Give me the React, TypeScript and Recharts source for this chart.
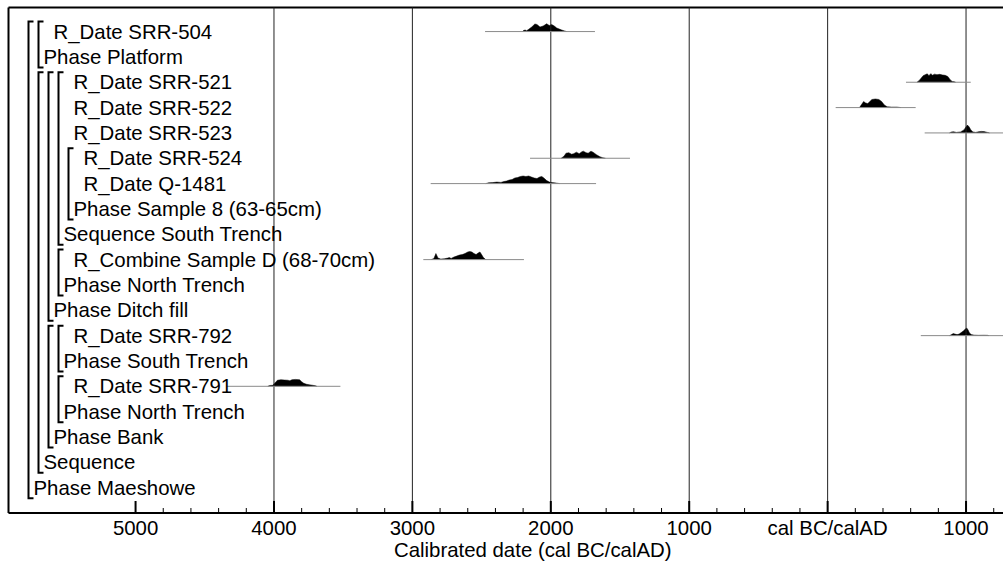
import { ComposedChart, Area, Line, XAxis, YAxis, ReferenceLine, Label } from "recharts"

const FONT = '"Liberation Sans", Arial, Helvetica, sans-serif'
const FONT_SIZE = 20.4

const WIDTH = 1003
const HEIGHT = 564
const PLOT_LEFT = 8.5
const PLOT_TOP = 7.5
const PLOT_BOTTOM = 513
const Y_MIN = -0.95
const Y_MAX = 19
const ROW_PX = (PLOT_BOTTOM - PLOT_TOP) / (Y_MAX - Y_MIN)
const INDENT = 10
// rows per unit of relative probability
const PROB_HEIGHT = 0.04

// model items, top to bottom
const labels = [
  "R_Date SRR-504",
  "Phase Platform",
  "R_Date SRR-521",
  "R_Date SRR-522",
  "R_Date SRR-523",
  "R_Date SRR-524",
  "R_Date Q-1481",
  "Phase Sample 8 (63-65cm)",
  "Sequence South Trench",
  "R_Combine Sample D (68-70cm)",
  "Phase North Trench",
  "Phase Ditch fill",
  "R_Date SRR-792",
  "Phase South Trench",
  "R_Date SRR-791",
  "Phase North Trench",
  "Phase Bank",
  "Sequence",
  "Phase Maeshowe",
]
const depths = [2, 1, 4, 4, 4, 5, 5, 4, 3, 4, 3, 2, 4, 3, 4, 3, 2, 1, 0]
// row of the first member for group rows, null for single dates
const groupStart = [null, 0, null, null, null, null, null, 5, 2, null, 9, 2, null, 12, null, 14, 12, 2, 0]
const rows = labels.map((_, i) => i)

// calendar years (BC negative), grid and ticks
const gridYears = [-4000, -3000, -2000, -1000, 0, 1000]
const tickYears = [-5000, -4800, -4600, -4400, -4200, -4000, -3800, -3600, -3400, -3200, -3000, -2800, -2600, -2400, -2200, -2000, -1800, -1600, -1400, -1200, -1000, -800, -600, -400, -200, 0, 200, 400, 600, 800, 1000, 1200]

// [year, relative probability]
const srr504 = [[-2205, 0], [-2195, 1.2], [-2185, 1.5], [-2175, 0.8], [-2162, 2], [-2138, 4.5], [-2115, 7.5], [-2100, 7], [-2078, 4.5], [-2055, 5.5], [-2030, 7.7], [-2011, 6], [-1994, 7], [-1975, 5.5], [-1957, 3.5], [-1921, 1.5], [-1900, 0.6], [-1885, 0]]
const srr521 = [[645, 0], [660, 1.5], [675, 4], [690, 6.5], [705, 7.5], [720, 8.3], [732, 6.5], [745, 8.5], [758, 7], [772, 8], [790, 7.5], [810, 7.8], [830, 7.2], [850, 6.8], [870, 5.5], [885, 2.5], [900, 0.8], [915, 0.5], [925, 0]]
const srr522 = [[230, 0], [245, 3], [260, 6], [275, 4.5], [290, 4], [305, 6], [320, 8], [345, 8.5], [370, 8], [390, 6], [410, 2.5], [430, 0.8], [460, 0.5], [500, 0.5], [530, 0]]
const srr523 = [[880, 0], [895, 1], [910, 1.2], [930, 0.5], [960, 1], [985, 3], [1000, 6], [1010, 7.7], [1022, 6], [1035, 3], [1050, 1], [1070, 0.5], [1090, 1.2], [1110, 1.5], [1130, 1.3], [1155, 0.5], [1170, 0]]
const srr524 = [[-1925, 0], [-1905, 2], [-1890, 5], [-1870, 5.5], [-1850, 4], [-1835, 4.5], [-1815, 6], [-1795, 4.5], [-1775, 6.5], [-1765, 7], [-1745, 5.5], [-1730, 5], [-1710, 7], [-1695, 6], [-1670, 3.5], [-1645, 1.5], [-1625, 0.5], [-1605, 0]]
const q1481 = [[-2470, 0], [-2450, 0.8], [-2420, 1], [-2390, 1.5], [-2360, 1.2], [-2340, 2], [-2320, 2.5], [-2300, 3.5], [-2280, 4], [-2260, 5.5], [-2240, 6], [-2220, 7], [-2200, 7.5], [-2180, 7], [-2160, 7.5], [-2140, 6.5], [-2120, 5.5], [-2100, 5], [-2080, 6.5], [-2065, 7], [-2050, 5.5], [-2030, 3], [-2010, 1.5], [-1990, 1], [-1960, 0.5], [-1935, 0]]
const sampleD = [[-2865, 0], [-2845, 1], [-2830, 6], [-2815, 1.5], [-2795, 0.5], [-2770, 0.8], [-2745, 1.5], [-2733, 2], [-2720, 1.2], [-2700, 2.5], [-2680, 3.5], [-2660, 4.5], [-2640, 5], [-2620, 6], [-2600, 7.5], [-2585, 8], [-2570, 7.5], [-2555, 6], [-2540, 5], [-2525, 6.5], [-2512, 7.5], [-2500, 5], [-2487, 2], [-2470, 0]]
const srr792 = [[880, 0], [895, 1], [908, 2], [920, 1.5], [935, 1], [950, 1.5], [965, 3], [980, 4.5], [995, 6.5], [1005, 7.5], [1015, 5.5], [1025, 2.5], [1038, 1], [1060, 0.5], [1090, 0.3], [1130, 0.4], [1155, 0.3], [1165, 0]]
const srr791 = [[-4045, 0], [-4030, 0.8], [-4010, 1], [-3995, 3], [-3975, 6], [-3950, 6.5], [-3925, 6.2], [-3900, 6], [-3885, 5.5], [-3870, 6.5], [-3845, 6.8], [-3815, 6.5], [-3800, 4.5], [-3785, 3], [-3765, 2], [-3745, 1.5], [-3720, 1], [-3700, 0.5], [-3690, 0]]

// [from, to] of each plotted range
const srr504Range = [-2475, -1681]
const srr521Range = [566, 1034]
const srr522Range = [58, 636]
const srr523Range = [701, 1400]
const srr524Range = [-2150, -1428]
const q1481Range = [-2868, -1673]
const sampleDRange = [-2921, -2194]
const srr792Range = [673, 1400]
const srr791Range = [-4340, -3520]

const dates = [
  { row: 0, dist: srr504, range: srr504Range },
  { row: 2, dist: srr521, range: srr521Range },
  { row: 3, dist: srr522, range: srr522Range },
  { row: 4, dist: srr523, range: srr523Range },
  { row: 5, dist: srr524, range: srr524Range },
  { row: 6, dist: q1481, range: q1481Range },
  { row: 9, dist: sampleD, range: sampleDRange },
  { row: 12, dist: srr792, range: srr792Range },
  { row: 14, dist: srr791, range: srr791Range },
]

const yearLabel = (v: number) => (v === 0 ? "cal BC/calAD" : String(Math.abs(v)))

function RowTick(props: any) {
  const { y, payload } = props
  const row = payload.value as number
  const tx = PLOT_LEFT + 25 + depths[row] * INDENT
  const start = groupStart[row]
  let bracket = null
  if (start !== null) {
    const bx = tx - 5
    const top = y - (row - start) * ROW_PX - 10
    const bottom = y + 10.5
    bracket = <path d={`M${bx + 5},${top} H${bx} V${bottom} H${bx + 5}`} fill="none" stroke="#000" strokeWidth={2} />
  }
  return (
    <g>
      {bracket}
      <text x={tx} y={y} dominantBaseline="central" fontFamily={FONT} fontSize={FONT_SIZE} fill="#000">
        {labels[row]}
      </text>
    </g>
  )
}

function YearTick(props: any) {
  const { x, payload } = props
  const v = payload.value as number
  const major = v % 1000 === 0
  return (
    <g>
      <line x1={x} x2={x} y1={PLOT_BOTTOM} y2={PLOT_BOTTOM - (major ? 12 : 5)} stroke="#000" strokeWidth={major ? 2 : 1} />
      {major && (
        <text x={x} y={PLOT_BOTTOM + 15} textAnchor="middle" dominantBaseline="central" fontFamily={FONT} fontSize={FONT_SIZE} fill="#000">
          {yearLabel(v)}
        </text>
      )}
    </g>
  )
}

function AxisTitle(props: any) {
  const { viewBox } = props
  return (
    <text x={viewBox.x + viewBox.width / 2 + 27} y={viewBox.y + 37} textAnchor="middle" dominantBaseline="central" fontFamily={FONT} fontSize={FONT_SIZE} fill="#000">
      Calibrated date (cal BC/calAD)
    </text>
  )
}

export default function App() {
  return (
    <div style={{ position: "absolute", left: 0, top: 0, background: "#fff" }}>
      <ComposedChart width={WIDTH} height={HEIGHT} margin={{ top: PLOT_TOP, right: 0, bottom: 0, left: PLOT_LEFT - 1 }}>
        <XAxis
          type="number"
          dataKey="year"
          domain={[-5918, 1267]}
          allowDataOverflow
          ticks={tickYears}
          interval={0}
          height={HEIGHT - PLOT_BOTTOM}
          axisLine={{ stroke: "#000", strokeWidth: 2 }}
          tickLine={false}
          tickSize={0}
          tick={<YearTick />}
        >
          <Label content={<AxisTitle />} />
        </XAxis>
        <YAxis
          type="number"
          domain={[Y_MIN, Y_MAX]}
          reversed
          allowDataOverflow
          ticks={rows}
          interval={0}
          width={1}
          axisLine={{ stroke: "#000", strokeWidth: 2 }}
          tickLine={false}
          tick={<RowTick />}
        />
        <ReferenceLine y={Y_MIN} stroke="#000" strokeWidth={2} ifOverflow="visible" />
        {gridYears.map((g) => (
          <ReferenceLine key={g} x={g} stroke="#222" strokeWidth={1} />
        ))}
        {dates.map((d) => (
          <Line
            key={`r${d.row}`}
            data={[
              { year: d.range[0], y: d.row },
              { year: d.range[1], y: d.row },
            ]}
            dataKey="y"
            type="linear"
            stroke="#8a8a8a"
            strokeWidth={1}
            dot={false}
            activeDot={false}
            isAnimationActive={false}
          />
        ))}
        {dates.map((d) => (
          <Area
            key={`a${d.row}`}
            data={d.dist.map(([year, p]) => ({ year, y: d.row - p * PROB_HEIGHT }))}
            dataKey="y"
            type="linear"
            baseValue={d.row}
            stroke="#000"
            strokeWidth={0.5}
            fill="#000"
            fillOpacity={1}
            dot={false}
            activeDot={false}
            isAnimationActive={false}
          />
        ))}
      </ComposedChart>
    </div>
  )
}
